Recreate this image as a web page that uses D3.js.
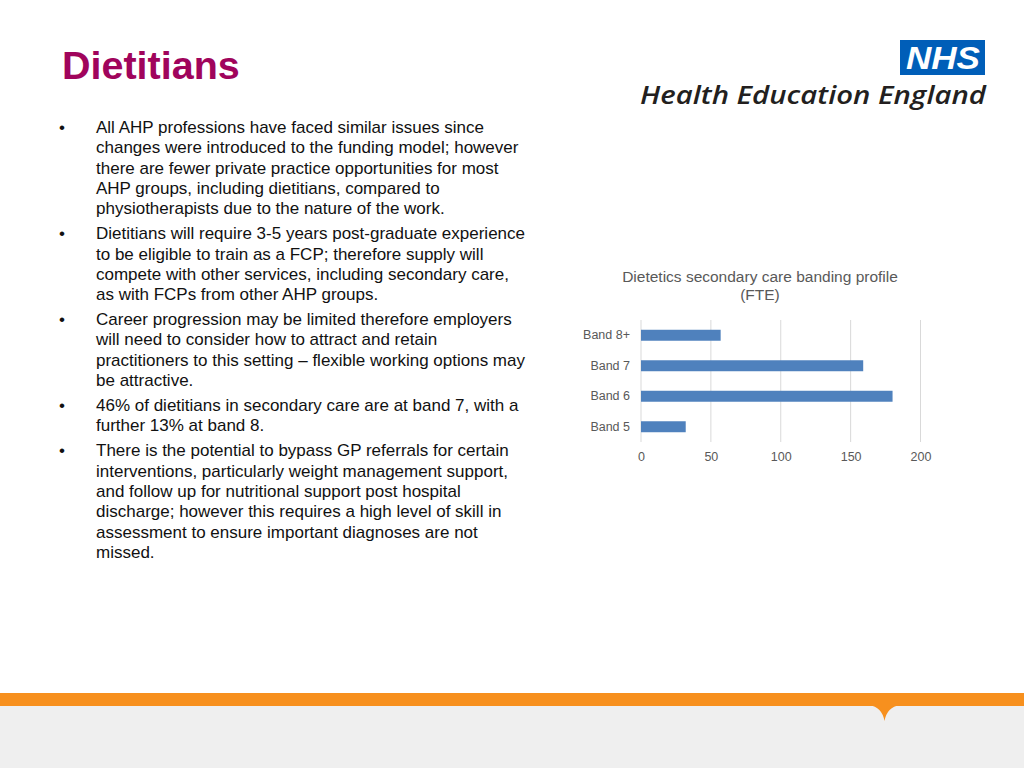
<!DOCTYPE html>
<html>
<head>
<meta charset="utf-8">
<script src="https://cdn.jsdelivr.net/npm/d3@7"></script>
<style>
  html, body { margin: 0; padding: 0; background: #ffffff; }
  svg { display: block; }
</style>
</head>
<body>
<svg id="chart" width="1024" height="768"></svg>
<script>
// ---- Data ----
const categories = ["Band 8+", "Band 7", "Band 6", "Band 5"];
const fteValues = [57, 159, 180, 32];
const xTicks = [0, 50, 100, 150, 200];
const chartTitleLines = ["Dietetics secondary care banding profile", "(FTE)"];
const slideTitle = "Dietitians";
const bullets = [
  ["All AHP professions have faced similar issues since",
   "changes were introduced to the funding model; however",
   "there are fewer private practice opportunities for most",
   "AHP groups, including dietitians, compared to",
   "physiotherapists due to the nature of the work."],
  ["Dietitians will require 3-5 years post-graduate experience",
   "to be eligible to train as a FCP; therefore supply will",
   "compete with other services, including secondary care,",
   "as with FCPs from other AHP groups."],
  ["Career progression may be limited therefore employers",
   "will need to consider how to attract and retain",
   "practitioners to this setting \u2013 flexible working options may",
   "be attractive."],
  ["46% of dietitians in secondary care are at band 7, with a",
   "further 13% at band 8."],
  ["There is the potential to bypass GP referrals for certain",
   "interventions, particularly weight management support,",
   "and follow up for nutritional support post hospital",
   "discharge; however this requires a high level of skill in",
   "assessment to ensure important diagnoses are not",
   "missed."]
];

const svg = d3.select("#chart");
const font = "'Liberation Sans', Arial, sans-serif";

// ---- Slide title ----
svg.append("text")
  .attr("x", 62).attr("y", 79)
  .attr("font-family", font).attr("font-weight", "bold")
  .attr("font-size", 39.5).attr("fill", "#A0045C")
  .text(slideTitle);

// ---- Logo ----
const logo = svg.append("g");
logo.append("rect").attr("x", 900).attr("y", 40).attr("width", 85).attr("height", 35).attr("fill", "#005EB8");
logo.append("text").attr("x", 943).attr("y", 69).attr("text-anchor", "middle")
  .attr("font-family", font).attr("font-weight", "bold").attr("font-style", "italic")
  .attr("font-size", 31).attr("fill", "#ffffff")
  .attr("textLength", 74).attr("lengthAdjust", "spacingAndGlyphs")
  .text("NHS");
logo.append("text").attr("x", 640).attr("y", 104)
  .attr("font-family", "'Open Sans', sans-serif").attr("font-weight", 600).attr("font-style", "italic")
  .attr("font-size", 26).attr("fill", "#231F20")
  .attr("textLength", 346).attr("lengthAdjust", "spacingAndGlyphs")
  .text("Health Education England");

// ---- Bullets ----
const lineH = 20.3, paraH = 25;
let y = 133;
const bg = svg.append("g").attr("font-family", font).attr("font-size", 17).attr("fill", "#111111");
bullets.forEach((para, pi) => {
  if (pi > 0) y += paraH - lineH;
  bg.append("text").attr("x", 59).attr("y", y).text("\u2022");
  para.forEach((line) => {
    bg.append("text").attr("x", 96).attr("y", y).text(line);
    y += lineH;
  });
});

// ---- Bar chart ----
const plot = { left: 641, right: 920.5, top: 320, bottom: 442 };
const x = d3.scaleLinear().domain([0, 200]).range([plot.left, plot.right]);
const yScale = d3.scaleBand().domain(categories).range([plot.top, plot.bottom]).paddingInner(0.64).paddingOuter(0.32);

const cg = svg.append("g");
cg.selectAll("text.title").data(chartTitleLines).enter().append("text")
  .attr("x", 760).attr("y", (d, i) => 281.5 + i * 18.5)
  .attr("text-anchor", "middle").attr("font-family", font).attr("font-size", 15.5).attr("fill", "#595959")
  .text(d => d);

cg.selectAll("line.grid").data(xTicks).enter().append("line")
  .attr("x1", d => x(d)).attr("x2", d => x(d))
  .attr("y1", plot.top).attr("y2", plot.bottom)
  .attr("stroke", "#D9D9D9").attr("stroke-width", 1);

cg.selectAll("rect.bar").data(categories).enter().append("rect")
  .attr("x", x(0)).attr("y", d => yScale(d))
  .attr("width", (d, i) => x(fteValues[i]) - x(0))
  .attr("height", yScale.bandwidth())
  .attr("fill", "#4F81BD");

// x axis labels
const xAxis = d3.axisBottom(x).tickValues(xTicks).tickSize(0).tickPadding(0);
const xa = cg.append("g").attr("transform", `translate(0,${plot.bottom + 10})`).call(xAxis);
xa.select(".domain").remove();
xa.selectAll("text").attr("font-family", font).attr("font-size", 12.5).attr("fill", "#595959");

// y axis labels
const yAxis = d3.axisLeft(yScale).tickSize(0).tickPadding(11);
const ya = cg.append("g").attr("transform", `translate(${plot.left},0)`).call(yAxis);
ya.select(".domain").remove();
ya.selectAll("text").attr("font-family", font).attr("font-size", 12.5).attr("fill", "#595959");

// ---- Footer ----
svg.append("rect").attr("x", 0).attr("y", 706).attr("width", 1024).attr("height", 62).attr("fill", "#EFEFEF");
svg.append("rect").attr("x", 0).attr("y", 693).attr("width", 1024).attr("height", 13).attr("fill", "#F7901E");
svg.append("path")
  .attr("d", "M869,705 Q882,707 884.5,721 Q887,707 900,705 Z")
  .attr("fill", "#F7901E");
</script>
</body>
</html>
